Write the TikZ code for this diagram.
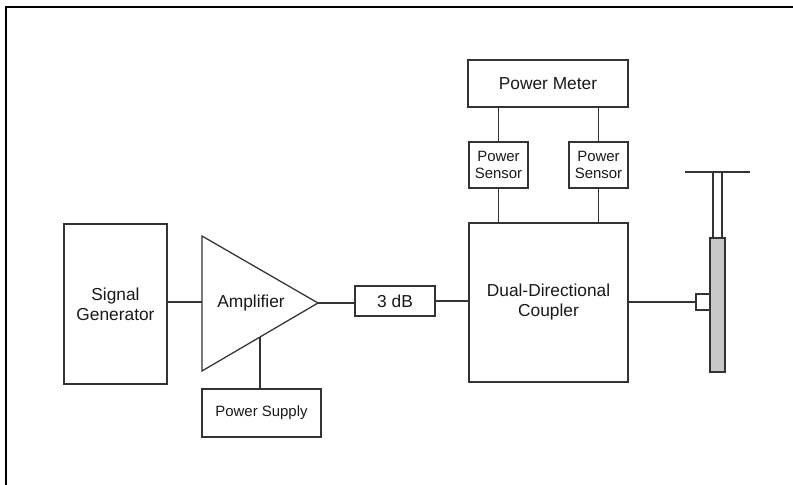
\documentclass[tikz,border=0pt]{standalone}
\usepackage{fontspec}
\setmainfont{Liberation Sans}
\usepackage{tikz}
\usetikzlibrary{positioning, calc}
\usepackage{xcolor}
\newcommand{\pxl}{0.75pt}
\definecolor{linegray}{HTML}{333333}
\definecolor{rodgray}{HTML}{C8C8C8}
\tikzset{%
	block/.style={
		rectangle,
		draw=linegray,
		line width=0.95pt,
		inner sep=0pt,
		outer sep=0pt,
		align=center,
		text=black!90,
		font=\fontsize{13}{15}\selectfont
	},
	small block/.style={
		block,
		font=\fontsize{11.2}{12.75}\selectfont
	},
	wire/.style={
		draw=linegray,
		line width=0.95pt
	},
}

\begin{document}
\begin{tikzpicture}[x=0.75pt, y=-0.75pt]
			
			\useasboundingbox (0,0) rectangle (793,485);
			\draw[line width=1.6pt] (6,485) -- (6,7) -- (793,7);
			
			\node[block, minimum width=103*\pxl, minimum height=160*\pxl] (gen) at (115.5,304) {Signal\\Generator};
			
			% amplifier triangle
			\draw[wire] (202,236) coordinate (amp top) -- (318,303) coordinate (amp tip) -- (202,371) coordinate (amp bottom) -- cycle;
			\coordinate (amp in) at (202,302);
			\coordinate (amp supply) at ($(amp tip)!0.5!(amp bottom)$);
			\node[block, draw=none] (amp) at (251,303) {Amplifier};
			\node[small block, minimum width=119*\pxl, minimum height=48*\pxl] (supply) at (261.5,413) {Power Supply};
			
			\node[block, minimum width=80*\pxl, minimum height=30*\pxl] (att) at (395,301) {3 dB};
			\node[block, minimum width=159*\pxl, minimum height=159*\pxl] (coupler) at (548.5,302.5) {Dual-Directional\\Coupler};
			
			\node[block, minimum width=160*\pxl, minimum height=47*\pxl] (meter) at (548,83.5) {Power Meter};
			\node[small block, minimum width=59*\pxl, minimum height=46*\pxl] (sensor fwd) at (498.5,165) {Power\\Sensor};
			\node[small block, minimum width=59*\pxl, minimum height=46*\pxl] (sensor rev) at (598.5,165) {Power\\Sensor};
			
			% antenna
			\draw[wire] (685,172) -- (750,172);
			\draw[wire] (713,172) -- (713,238);
			\draw[wire] (722,172) -- (722,238);
			\draw[wire, fill=rodgray] (710,238) rectangle (725,372);
			\node[block, minimum width=14*\pxl, minimum height=16*\pxl] (feed) at (703,302) {};
			
			\draw[wire] (gen.east |- amp in) -- (amp in);
			\draw[wire] (amp tip) -- (att.west |- amp tip);
			\draw[wire] (att.east) -- (coupler.west |- att.east);
			\draw[wire] (amp supply) -- (supply.north -| amp supply);
			\draw[wire] (coupler.east |- feed.west) -- (feed.west);
			\draw[wire] (sensor fwd.north) -- (sensor fwd.north |- meter.south);
			\draw[wire] (sensor rev.north) -- (sensor rev.north |- meter.south);
			\draw[wire] (sensor fwd.south) -- (sensor fwd.south |- coupler.north);
			\draw[wire] (sensor rev.south) -- (sensor rev.south |- coupler.north);
			
		\end{tikzpicture}
\end{document}
